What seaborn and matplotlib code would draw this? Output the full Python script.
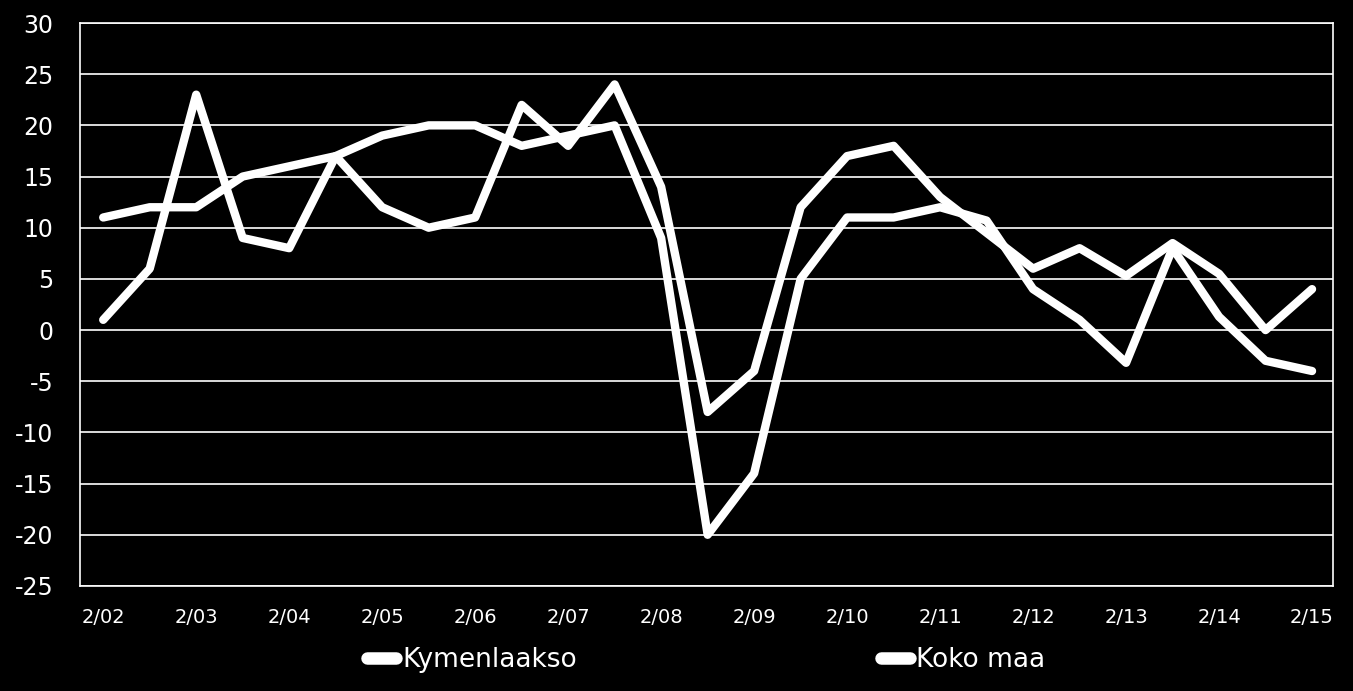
import numpy as np
import pandas as pd
import matplotlib
matplotlib.use("Agg")
import matplotlib.pyplot as plt
import seaborn as sns

# half-year survey points, Feb / Aug
periods = []
for yr in range(2, 16):
    periods.append("2/%02d" % yr)
    if yr < 15:
        periods.append("8/%02d" % yr)

kymenlaakso = [1, 6, 23, 9, 8, 17, 12, 10, 11, 22, 18, 24, 14, -8, -4,
               12, 17, 18, 13, 9.5, 6, 8, 5.3, 8.5, 5.5, 0, 4]
koko_maa = [11, 12, 12, 15, 16, 17, 19, 20, 20, 18, 19, 20, 9, -20, -14,
            5, 11, 11, 12, 10.7, 4, 1, -3.2, 8, 1.3, -3, -4]

series_names = ["Kymenlaakso", "Koko maa"]
yticks = list(range(-25, 31, 5))

df = pd.concat([
    pd.DataFrame({"period": periods, "value": kymenlaakso, "series": series_names[0]}),
    pd.DataFrame({"period": periods, "value": koko_maa, "series": series_names[1]}),
])

sns.set_style("dark")
plt.rcParams["font.family"] = ["DejaVu Sans"]

fig = plt.figure(figsize=(13.53, 6.91), dpi=100, facecolor="black")
ax = fig.add_axes([0.0591, 0.152, 0.9261, 0.8147])
ax.set_facecolor("black")

sns.lineplot(data=df, x="period", y="value", hue="series", sort=False,
             palette=["white", "white"], linewidth=6, ax=ax, legend=False,
             solid_capstyle="round")

ax.set_xlim(-0.5, len(periods) - 0.55)
ax.set_ylim(-25, 30)
ax.set_yticks(yticks)
ax.set_yticklabels([str(v) for v in yticks], fontsize=17, color="white")
ax.set_xticks(range(0, len(periods), 2))
ax.set_xticklabels(periods[::2], fontsize=14, color="white")
ax.tick_params(axis="y", length=0, pad=19)
ax.tick_params(axis="x", length=0, pad=16)
ax.set_xlabel("")
ax.set_ylabel("")

ax.grid(False)
for v in yticks:
    ax.axhline(v, color="white", linewidth=1.2, zorder=0)
for s in ax.spines.values():
    s.set_visible(True)
    s.set_color("white")
    s.set_linewidth(1.2)

handles = [plt.Line2D([], [], color="white", linewidth=9, solid_capstyle="round")
           for _ in series_names]
leg = fig.legend(handles, series_names, loc="center", bbox_to_anchor=(0.522, 0.045),
                 ncol=2, frameon=False, fontsize=19, handlelength=1.1,
                 handletextpad=0.25, columnspacing=11.5)
for t in leg.get_texts():
    t.set_color("white")

fig.savefig("out.png", dpi=100, facecolor="black")
